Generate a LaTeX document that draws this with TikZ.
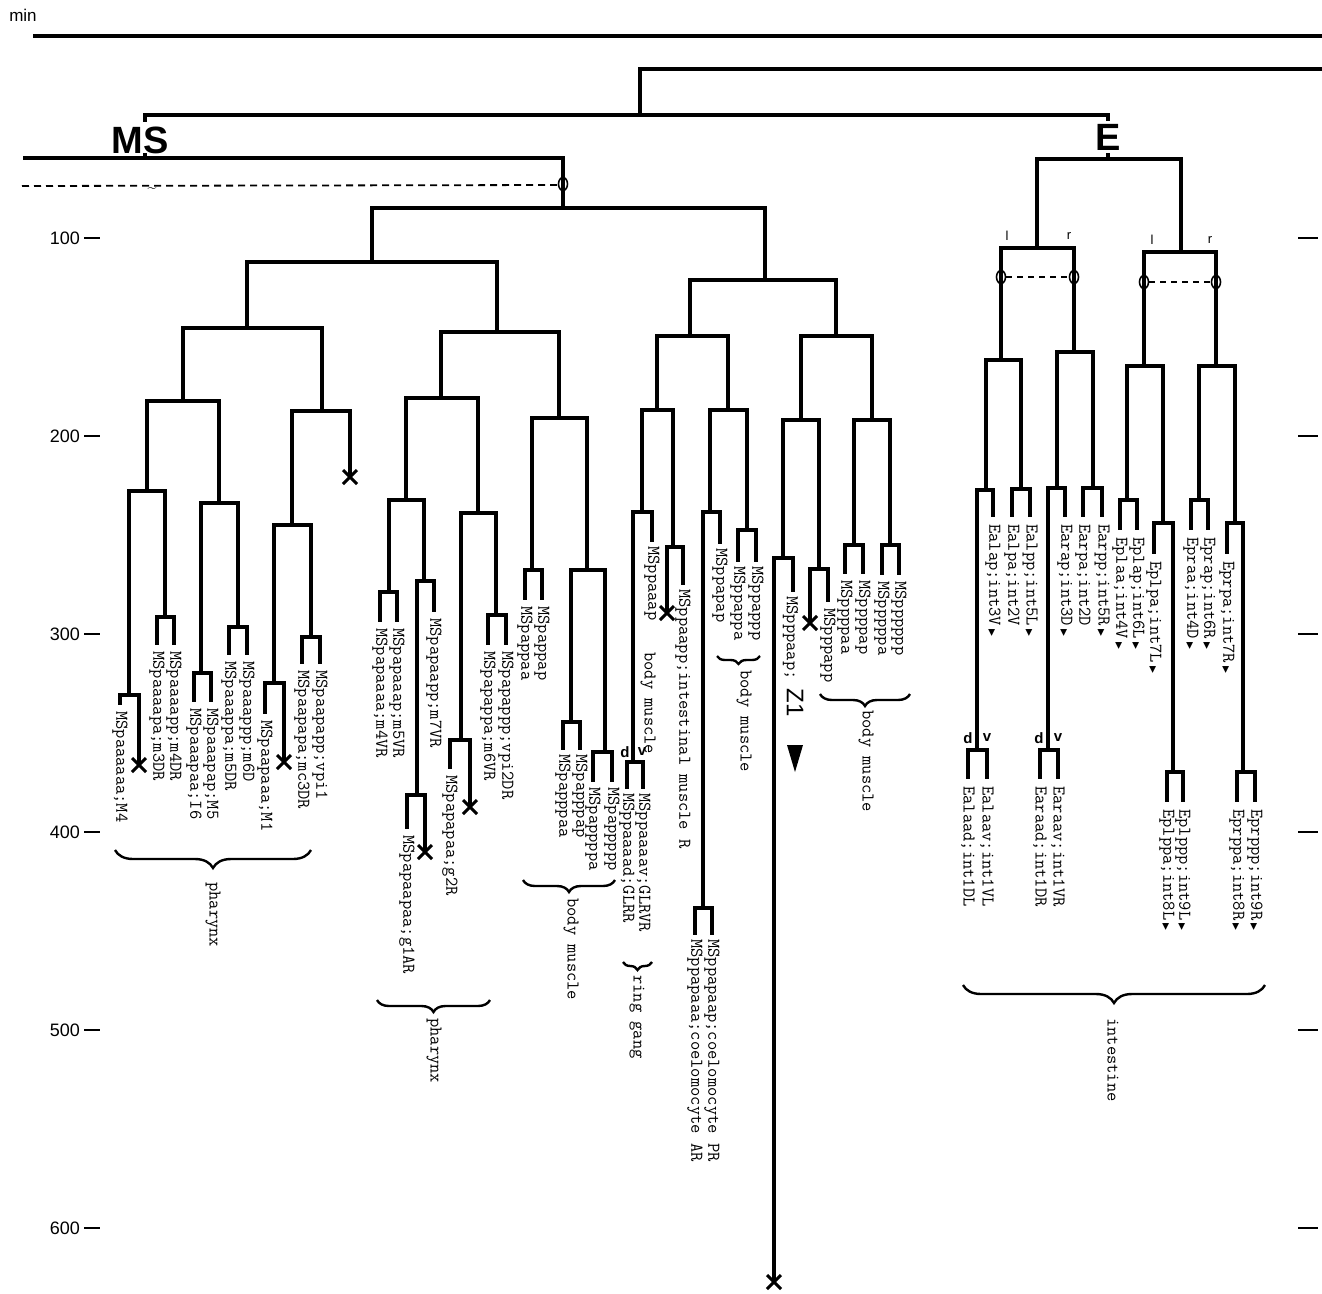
\documentclass[tikz,border=0pt]{standalone}
\usepackage{fontspec}
\setsansfont{Liberation Sans}
\newfontfamily\symfont{DejaVu Sans}
\usetikzlibrary{decorations.pathreplacing}
\newcommand{\tri}{\,{\symfont\fontsize{9}{9}\selectfont ▶}}

\begin{document}
\begin{tikzpicture}[x=1pt, y=-1pt,
		tree/.style={line width=3.3pt, line cap=rect},
		xmark/.style={line width=3pt},
		lbl/.style={rotate=-90, anchor=west, inner sep=0pt, font=\fontsize{18}{18}\selectfont\ttfamily\addfontfeatures{FakeBold=1.2}},
		brc/.style={decorate, decoration={brace, amplitude=#1}, line width=2.4pt},
		axis/.style={font=\sffamily\fontsize{18}{18}\selectfont, anchor=east, inner sep=0pt},
		side/.style={font=\sffamily\bfseries\fontsize{15}{15}\selectfont, inner sep=0pt},
		lr/.style={font=\sffamily\fontsize{13}{13}\selectfont, inner sep=0pt}]
	\useasboundingbox (0,0) rectangle (1322,1293);
	\node[font=\sffamily\fontsize{17}{17}\selectfont] (min) at (23,15) {min};
	\draw[tree] (35,36) -- (1322,36);
	\draw[tree] (640,115) -- (640,69) -- (1322,69);
	\draw[tree] (145,120) -- (145,115) -- (1108,115) -- (1108,119);
	\draw[tree] (145,155) -- (145,158);
	\draw[tree] (1108,155) -- (1108,159);
	\node[font=\sffamily\bfseries\fontsize{38}{38}\selectfont] (ms) at (140,140) {MS};
	\node[font=\sffamily\bfseries\fontsize{38}{38}\selectfont] (e) at (1108,137) {E};
	\foreach \t/\y in {100/238, 200/436, 300/634, 400/832, 500/1030, 600/1228} {
		\node[axis] (t\t) at (80,\y) {\t};
		\draw[line width=2.2pt] (84,\y) -- (100,\y);
		\draw[line width=2.2pt] (1298,\y) -- (1318,\y);
	}
	\foreach \x/\a/\b in {563/158/208, 372/208/262, 247/262/328, 183/328/401, 147/401/491, 129/491/695, 120/695/703, 139/695/765,
		165/491/617, 157/617/643, 174/617/643, 219/401/503, 201/503/673, 194/673/700, 211/673/700, 238/503/627, 229/627/653, 247/627/653,
		322/328/411, 350/411/477, 292/411/525, 274/525/683, 265/683/712, 284/683/762, 311/525/637, 302/637/662, 320/637/662,
		497/262/332, 441/332/398, 406/398/500, 389/500/592, 380/592/620, 397/592/620, 424/500/581, 417/581/795, 434/581/610,
		407/795/827, 425/795/852, 478/398/513, 461/513/740, 450/740/767, 470/740/807, 496/513/615, 488/615/643, 506/615/643,
		559/332/418, 532/418/570, 525/570/598, 542/570/598, 587/418/570, 571/570/722, 563/722/748, 580/722/748, 605/570/752,
		593/752/780, 612/752/780,
		765/208/280, 690/280/336, 657/336/410, 642/410/512, 633/512/762, 627/762/787, 643/762/787, 652/512/540, 673/410/547,
		667/547/613, 683/547/583, 728/336/410, 710/410/512, 703/512/908, 695/908/933, 712/908/933, 720/512/542, 747/410/530,
		738/530/560, 756/530/560, 836/280/336, 801/336/420, 783/420/558, 774/558/1282, 793/558/590, 819/420/569, 810/569/623,
		828/569/600, 872/336/420, 854/420/545, 845/545/572, 863/545/572, 890/420/545, 882/545/573, 899/545/573,
		1037/159/248, 1181/159/252, 1001/248/360, 1074/248/352, 1144/252/366, 1216/252/366, 986/360/490, 977/490/750,
		968/750/777, 987/750/777, 993/490/515, 1021/360/489, 1012/489/515, 1030/489/515, 1057/352/488, 1048/488/750,
		1040/750/777, 1058/750/777, 1065/488/515, 1093/352/488, 1083/488/515, 1102/488/515, 1127/366/500, 1120/500/528,
		1137/500/528, 1163/366/523, 1154/523/552, 1173/523/772, 1167/772/800, 1183/772/800, 1199/366/500, 1191/500/528,
		1208/500/528, 1235/366/523, 1227/523/552, 1243/523/772, 1237/772/800, 1255/772/800}
		\draw[tree] (\x,\a) -- (\x,\b);
	\foreach \y/\l/\r in {158/25/563, 208/372/765, 262/247/497, 328/183/322, 401/147/219, 491/129/165, 695/120/139, 617/157/174,
		503/201/238, 673/194/211, 627/229/247, 411/292/350, 525/274/311, 683/265/284, 637/302/320, 332/441/559, 398/406/478,
		500/389/424, 592/380/397, 581/417/434, 795/407/425, 513/461/496, 740/450/470, 615/488/506, 418/532/587, 570/525/542,
		570/571/605, 722/563/580, 752/593/612,
		280/690/836, 336/657/728, 410/642/673, 512/633/652, 762/627/643, 547/667/683, 410/710/747, 512/703/720, 908/695/712,
		530/738/756, 336/801/872, 420/783/819, 558/774/793, 569/810/828, 420/854/890, 545/845/863, 545/882/899,
		159/1037/1181, 248/1001/1074, 252/1144/1216, 360/986/1021, 352/1057/1093, 366/1127/1163, 366/1199/1235, 490/977/993,
		750/968/987, 489/1012/1030, 488/1048/1065, 750/1040/1058, 488/1083/1102, 500/1120/1137, 523/1154/1173, 772/1167/1183,
		500/1191/1208, 523/1227/1243, 772/1237/1255}
		\draw[tree] (\l,\y) -- (\r,\y);
	\foreach \x/\y in {139/765, 350/477, 284/762, 425/852, 470/807, 667/613, 810/623, 774/1282}
		\draw[xmark] (\x-7,\y-7) -- (\x+7,\y+7) (\x-7,\y+7) -- (\x+7,\y-7);
	\foreach \x/\y in {563/184, 1001/277, 1074/277, 1144/282, 1216/282}
		\draw[line width=1.6pt] (\x,\y) ellipse [x radius=4.5, y radius=6.5];
	\draw[dashed, line width=1.8pt, dash pattern=on 7pt off 5pt] (22,186) -- (558,185);
	\node[font=\fontsize{16}{16}\selectfont, inner sep=0pt] (wave) at (152,190) {\textasciitilde};
	\draw[dashed, line width=1.8pt, dash pattern=on 6pt off 5pt] (1006,277) -- (1069,277);
	\draw[dashed, line width=1.8pt, dash pattern=on 6pt off 5pt] (1149,282) -- (1211,282);
	\foreach \x/\y/\t in {1007/236/l, 1069/236/r, 1152/240/l, 1210/240/r}
		\node[lr] (s\x) at (\x,\y) {\t};
	\foreach \x/\y/\t in {625/752/d, 642/752/v, 968/738/d, 987/738/v, 1039/738/d, 1058/738/v}
		\node[side] (s\x) at (\x,\y) {\t};
	\foreach \x/\y/\t in {120/711/MSpaaaaaa;M4, 157/651/MSpaaaapa;m3DR, 174/651/MSpaaaapp;m4DR, 194/708/MSpaaapaa;I6,
		211/708/MSpaaapap;M5, 229/661/MSpaaappa;m5DR, 247/661/MSpaaappp;m6D, 265/720/MSpaapaaa;M1, 302/670/MSpaapapa;mc3DR,
		320/670/MSpaapapp;vpi1, 380/628/MSpapaaaa;m4VR, 397/628/MSpapaaap;m5VR, 434/618/MSpapaapp;m7VR, 407/835/MSpapaapaa;g1AR,
		450/775/MSpapapaa;g2R, 488/651/MSpapappa;m6VR, 506/651/MSpapappp;vpi2DR, 525/606/MSpappaa, 542/606/MSpappap,
		563/754/MSpapppaa, 580/754/MSpapppap, 593/787/MSpappppa, 612/787/MSpappppp, 652/546/MSppaaap,
		683/589/MSppaapp;intestinal muscle R, 627/793/MSppaaaad;GLRR, 643/793/MSppaaaav;GLRVR, 720/548/MSppapap,
		695/939/MSppapaaa;coelomocyte AR, 712/939/MSppapaap;coelomocyte PR, 738/566/MSppappa, 756/566/MSppappp,
		828/608/MSpppapp, 845/580/MSppppaa, 863/580/MSppppap, 882/581/MSpppppa, 899/581/MSpppppp,
		993/524/Ealap;int3V\tri, 1012/524/Ealpa;int2V, 1030/524/Ealpp;int5L\tri, 1065/524/Earap;int3D\tri, 1083/524/Earpa;int2D,
		1102/524/Earpp;int5R\tri, 1120/537/Eplaa;int4V\tri, 1137/537/Eplap;int6L\tri, 1154/561/Eplpa;int7L\tri,
		1191/537/Epraa;int4D\tri, 1208/537/Eprap;int6R\tri, 1227/561/Eprpa;int7R\tri, 968/786/Ealaad;int1DL,
		987/786/Ealaav;int1VL, 1040/786/Earaad;int1DR, 1058/786/Earaav;int1VR, 1167/809/Eplppa;int8L\tri,
		1183/809/Eplppp;int9L\tri, 1237/809/Eprppa;int8R\tri, 1255/809/Eprppp;int9R\tri}
		\node[lbl] (c\x) at (\x,\y) {\t};
	\node[lbl] (z1) at (793,596) {MSpppaap; {\sffamily\fontsize{24}{24}\selectfont Z1}};
	\fill (787,745) -- (803,745) -- (795,772) -- cycle;
	\draw[brc=18pt] (311,850) -- (115,850);
	\draw[brc=12pt] (490,1000) -- (377,1000);
	\draw[brc=12pt] (615,880) -- (523,880);
	\draw[brc=8pt] (760,656) -- (717,656);
	\draw[brc=8pt] (652,962) -- (623,962);
	\draw[brc=12pt] (910,694) -- (820,694);
	\draw[brc=18pt] (1265,985) -- (963,985);
	\foreach \x/\y/\t in {213/882/pharynx, 434/1018/pharynx, 571/898/body muscle, 648/652/body muscle, 744/670/body muscle,
		637/975/ring gang, 866/710/body muscle, 1113/1018/intestine}
		\node[lbl] (g\x) at (\x,\y) {\t};
\end{tikzpicture}
\end{document}
